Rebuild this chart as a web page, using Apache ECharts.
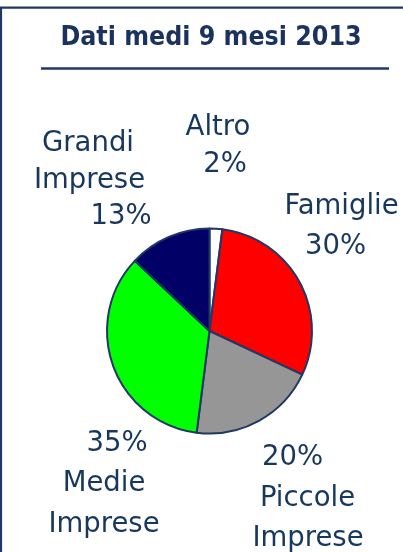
<!DOCTYPE html>
<html><head><meta charset="utf-8">
<script src="https://cdn.jsdelivr.net/npm/echarts@6/dist/echarts.min.js"></script>
<style>html,body{margin:0;padding:0;background:#fff}#c{width:403px;height:552px}</style>
</head><body><div id="c"></div>
<script>
const titleText = 'Dati medi 9 mesi 2013';
const categories = ['Altro', 'Famiglie', 'Piccole\nImprese', 'Medie\nImprese', 'Grandi\nImprese'];
const values = [2, 30, 20, 35, 13];
const sliceColors = ['#FFFFFF', '#FF0000', '#969696', '#00FF00', '#000066'];
const percentFirst = [false, false, true, true, false];

// label placement (block centre, line height, per-line horizontal offsets)
const labelStyles = [
  { x: 218, y: 146.5, lh: 37.5, off: [0, 7] },
  { x: 341.5, y: 227, lh: 40, off: [0, -6] },
  { x: 308, y: 498.5, lh: 40.5, off: [-15.5, -0.5, 0] },
  { x: 104, y: 484, lh: 40.5, off: [13, 0, 0] },
  { x: 89, y: 180.5, lh: 36.5, off: [-1, 0.5, 32] }
];

const textColor = '#17375E';
const lineColor = '#1F3864';
const font = 'DejaVu Sans';

function lineSets(i) {
  const nameLines = categories[i].split('\n');
  const pct = values[i] + '%';
  return percentFirst[i] ? [pct].concat(nameLines) : nameLines.concat([pct]);
}

const data = categories.map(function (name, i) {
  const st = labelStyles[i];
  const lines = lineSets(i);
  const rich = {};
  lines.forEach(function (ln, k) {
    const d = st.off[k] || 0;
    rich['l' + k] = {
      align: 'center',
      fontSize: 27.5,
      fontFamily: font,
      color: textColor,
      lineHeight: st.lh,
      padding: d >= 0 ? [0, 0, 0, 2 * d] : [0, -2 * d, 0, 0]
    };
  });
  return {
    name: name,
    value: values[i],
    itemStyle: { color: sliceColors[i] },
    label: {
      formatter: lines.map(function (ln, k) { return '{l' + k + '|' + ln + '}'; }).join('\n'),
      rich: rich
    }
  };
});

const chart = echarts.init(document.getElementById('c'), null, { renderer: 'canvas' });
chart.setOption({
  animation: false,
  backgroundColor: '#FFFFFF',
  title: {
    text: titleText,
    left: 211,
    textAlign: 'center',
    top: 24.5,
    padding: 0,
    textStyle: { fontFamily: '"DejaVu Sans Condensed", "DejaVu Sans"', fontWeight: 'bold', fontSize: 26.5, color: '#1B315E', lineHeight: 27 }
  },
  graphic: [
    { type: 'rect', silent: true, shape: { x: 1, y: 7.7, width: 600, height: 700 },
      style: { fill: 'none', stroke: lineColor, lineWidth: 2.2 } },
    { type: 'line', silent: true, shape: { x1: 41, y1: 68.5, x2: 389, y2: 68.5 },
      style: { stroke: lineColor, lineWidth: 2.5 } }
  ],
  series: [{
    type: 'pie',
    center: [209.5, 331],
    radius: 102.5,
    startAngle: 90,
    clockwise: true,
    avoidLabelOverlap: false,
    silent: true,
    itemStyle: { borderColor: lineColor, borderWidth: 2 },
    label: { show: true, position: 'outside' },
    labelLine: { show: false },
    labelLayout: function (params) {
      const s = labelStyles[params.dataIndex];
      return { x: s.x, y: s.y, align: 'center', verticalAlign: 'middle', hideOverlap: false };
    },
    emphasis: { disabled: true },
    data: data
  }]
});
</script>
</body></html>
